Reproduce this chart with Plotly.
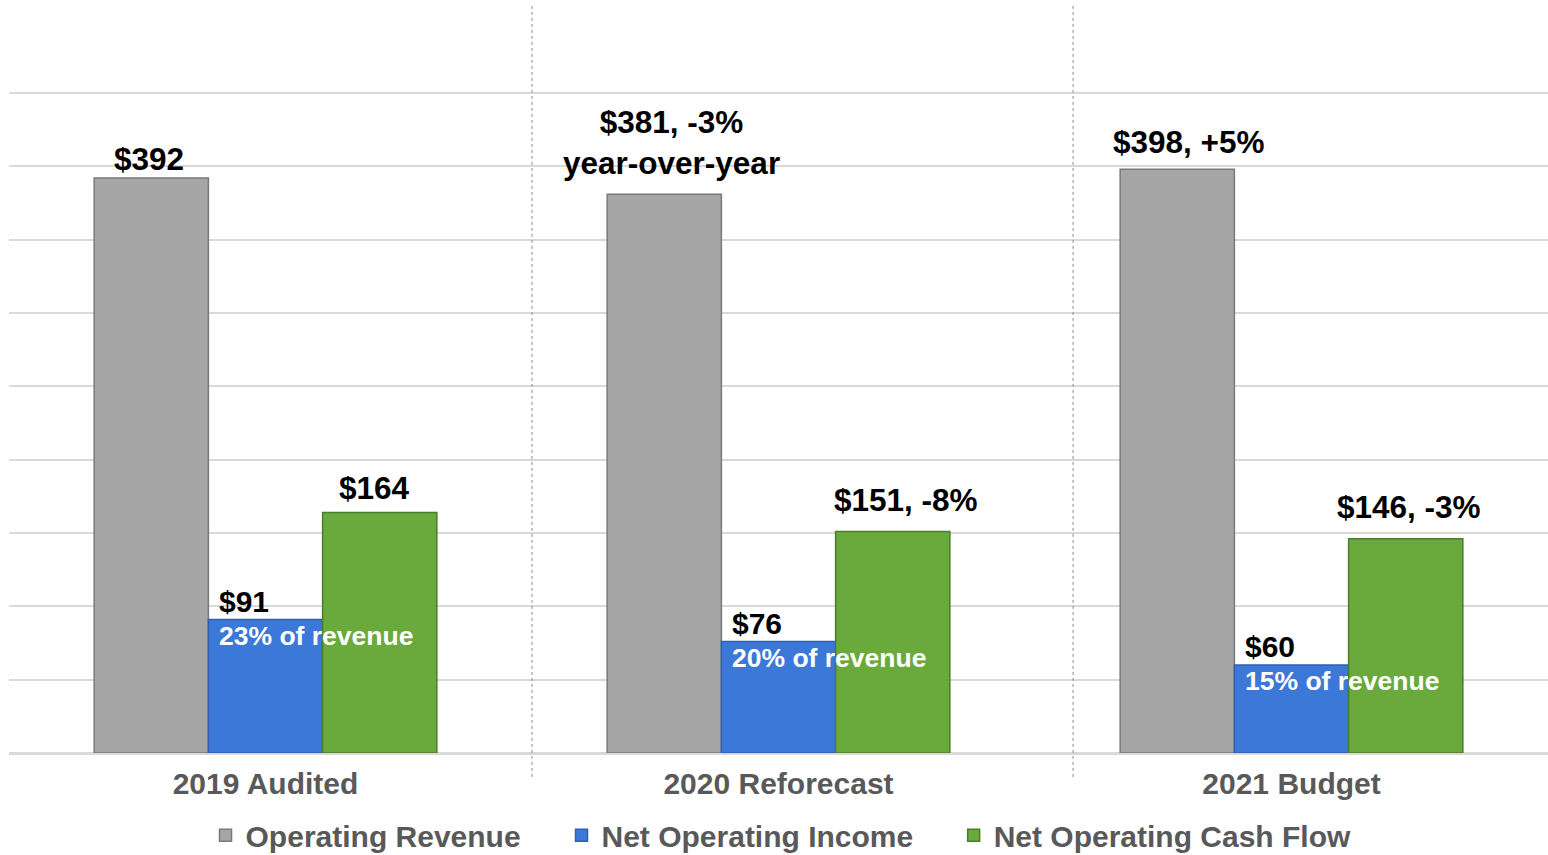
import plotly.graph_objects as go

categories = ["2019 Audited", "2020 Reforecast", "2021 Budget"]
revenue = [392, 381, 398]
noi = [91, 76, 60]
cash_flow = [164, 151, 146]
revenue_labels = ["$392", "$381, -3%<br>year-over-year", "$398, +5%"]
noi_labels = ["$91", "$76", "$60"]
noi_pct_labels = ["23% of revenue", "20% of revenue", "15% of revenue"]
cash_labels = ["$164", "$151, -8%", "$146, -3%"]
series_names = ["Operating Revenue", "Net Operating Income", "Net Operating Cash Flow"]

# label nudges in pixels (style only)
REV_DX = [-2, 7, 12]
REV_DY = [-1, 11, 7]
CASH_DX = [-5, 13, 3]
CASH_DY = [4, 12, 12]
LEGEND_X = [0.1277, 0.3590, 0.6138]

FONT = "Liberation Sans, Arial, sans-serif"
BARGAP = 0.332
W = (1 - BARGAP) / 3  # single bar width in category units

fig = go.Figure()
fig.add_trace(go.Bar(x=categories, y=revenue, name=series_names[0], legend="legend",
                     marker=dict(color="#a6a6a6", line=dict(color="#7a7a7a", width=1.5))))
fig.add_trace(go.Bar(x=categories, y=noi, name=series_names[1], legend="legend2",
                     marker=dict(color="#3c78d8", line=dict(color="#2f5fae", width=1.5))))
fig.add_trace(go.Bar(x=categories, y=cash_flow, name=series_names[2], legend="legend3",
                     marker=dict(color="#6aaa3c", line=dict(color="#4b7d2a", width=1.5))))

annotations = []
for i in range(len(categories)):
    annotations.append(dict(x=i - W, y=revenue[i], text=revenue_labels[i], showarrow=False,
                            xanchor="center", yanchor="bottom", yshift=REV_DY[i], xshift=REV_DX[i],
                            font=dict(family=FONT, size=31.5, color="black", weight="bold")))
    annotations.append(dict(x=i + W, y=cash_flow[i], text=cash_labels[i], showarrow=False,
                            xanchor="center", yanchor="bottom", yshift=CASH_DY[i], xshift=CASH_DX[i],
                            font=dict(family=FONT, size=31.5, color="black", weight="bold")))
    annotations.append(dict(x=i - W / 2, y=noi[i], text=noi_labels[i], showarrow=False,
                            xanchor="left", yanchor="bottom", xshift=9, yshift=0,
                            font=dict(family=FONT, size=30, color="black", weight="bold")))
    annotations.append(dict(x=i - W / 2, y=noi[i], text=noi_pct_labels[i], showarrow=False,
                            xanchor="left", yanchor="top", xshift=9, yshift=1,
                            font=dict(family=FONT, size=26.5, color="white", weight="bold")))

shapes = []
for xp in [0.3398, 0.6914]:
    shapes.append(dict(type="line", xref="paper", yref="paper", x0=xp, x1=xp, y0=-0.032, y1=1,
                       line=dict(color="#8c8c8c", width=1, dash="dot")))

legend_font = dict(family=FONT, size=30, color="#595959", weight="bold")
legends = {}
for k, key in enumerate(["legend", "legend2", "legend3"]):
    legends[key] = dict(orientation="h", x=LEGEND_X[k], xanchor="left", y=-0.110, yanchor="middle",
                        font=legend_font, itemwidth=30, bgcolor="rgba(0,0,0,0)")

fig.update_layout(
    width=1548, height=855,
    margin=dict(l=9, r=0, t=5, b=102, autoexpand=False),
    paper_bgcolor="white", plot_bgcolor="white",
    barmode="group", bargap=BARGAP, bargroupgap=0,
    xaxis=dict(range=[-0.5, 2.5], showgrid=False, showline=False, ticks="",
               tickfont=dict(family=FONT, size=30, color="#595959", weight="bold"),
               ticklabelstandoff=10),
    yaxis=dict(range=[0, 510], tickvals=[0, 50, 100, 150, 200, 250, 300, 350, 400, 450],
               showticklabels=False, showgrid=True, gridcolor="#d9d9d9", gridwidth=2,
               zeroline=True, zerolinecolor="#d9d9d9", zerolinewidth=3, showline=False),
    annotations=annotations,
    shapes=shapes,
    showlegend=True,
    **legends,
)

post = (
    "document.documentElement.style.overflow='hidden';"
    "document.body.style.margin='0';"
    "document.body.style.padding='0';"
    "document.body.style.overflow='hidden';"
)
fig.write_html("out.html", config={"displayModeBar": False}, post_script=post)
